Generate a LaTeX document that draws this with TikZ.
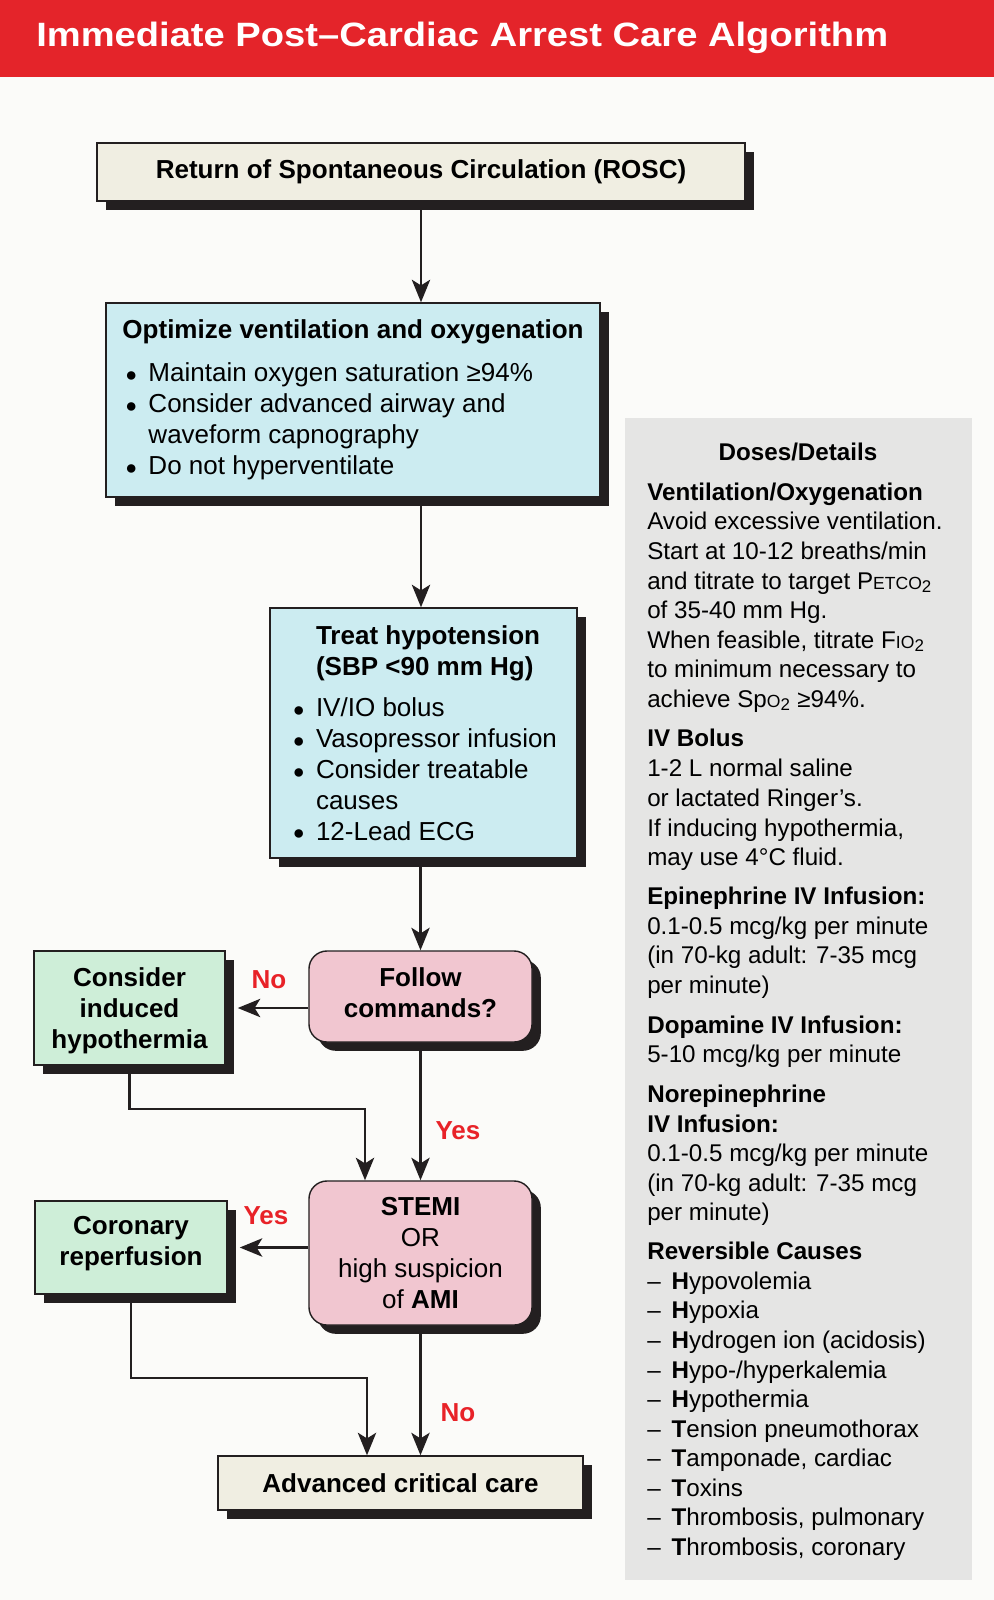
\documentclass[tikz,border=0pt]{standalone}
\usepackage{fontspec}
\setmainfont{Liberation Sans}
\usetikzlibrary{positioning}
\usetikzlibrary{arrows.meta}
\usetikzlibrary{shadows}

\definecolor{titlered}{RGB}{228,36,42}
\definecolor{labelred}{RGB}{232,34,40}
\definecolor{creamfill}{RGB}{240,238,226}
\definecolor{bluefill}{RGB}{204,236,241}
\definecolor{pinkfill}{RGB}{241,198,208}
\definecolor{greenfill}{RGB}{206,238,216}
\definecolor{panelgray}{RGB}{229,229,228}
\definecolor{shadowc}{RGB}{35,31,32}
\definecolor{pagebg}{RGB}{251,251,249}

\newcommand{\itm}{\hspace*{2pt}\makebox[16.5pt][l]{\raisebox{0.3pt}{\fontsize{14pt}{14pt}\selectfont ●}}}
\newcommand{\ind}{\hspace*{18.5pt}}
\newcommand{\smc}[1]{{\fontsize{12.5pt}{12.5pt}\selectfont #1}}
\newcommand{\dsh}{–\hspace{.45em}}

\tikzset{
  box/.style={draw=shadowc, line width=1pt, inner sep=0pt, align=left,
    drop shadow={shadow xshift=0.22cm, shadow yshift=-0.22cm, fill=shadowc, opacity=1},
    font=\fontsize{18.5pt}{22pt}\selectfont},
  plainbox/.style={box, fill=creamfill, font=\fontsize{18.5pt}{22pt}\selectfont\bfseries},
  bluebox/.style={box, fill=bluefill},
  greenbox/.style={box, fill=greenfill, align=center, font=\fontsize{18.5pt}{22pt}\selectfont\bfseries},
  pinkbox/.style={box, fill=pinkfill, align=center, rounded corners=0.45cm},
  conn/.style={draw=shadowc, line width=1.9pt, -{Stealth[length=16pt,width=13pt,inset=4pt]}},
  lbl/.style={text=labelred, inner sep=0pt, font=\fontsize{18.5pt}{22pt}\selectfont\bfseries},
  side/.style={anchor=base west, inner sep=0pt, font=\fontsize{17.2pt}{21pt}\selectfont}
}

\begin{document}
\begin{tikzpicture}[x=0.025cm, y=-0.025cm]
\useasboundingbox (0,0) rectangle (994,1600);
\fill[pagebg] (0,0) rectangle (994,1600);
\fill[titlered] (0,0) rectangle (994,77);
\node[anchor=base west, inner sep=0pt, text=white, font=\fontsize{24pt}{24pt}\selectfont\bfseries] (title) at (36,46) {\scalebox{1.13}[1]{Immediate Post–Cardiac Arrest Care Algorithm}};

% flow chart
\node[plainbox, minimum width=16.2cm, minimum height=1.45cm] (rosc) at (421,172) {Return of Spontaneous Circulation (ROSC)};
\node[bluebox, minimum width=12.35cm, minimum height=4.85cm] (vent) at (353,400) {\textbf{Optimize ventilation and oxygenation}\\[8.5pt]
  \itm Maintain oxygen saturation ≥94\%\\
  \itm Consider advanced airway and\\
  \ind waveform capnography\\
  \itm Do not hyperventilate};
\node[bluebox, minimum width=7.675cm, minimum height=6.25cm] (hypot) at (423.5,733) {\ind\textbf{Treat hypotension}\\
  \ind\textbf{(SBP <90 mm Hg)}\\[7.5pt]
  \itm IV/IO bolus\\
  \itm Vasopressor infusion\\
  \itm Consider treatable\\
  \ind causes\\
  \itm 12-Lead ECG};
\node[pinkbox, minimum width=5.575cm, minimum height=2.275cm, font=\fontsize{18.5pt}{22pt}\selectfont\bfseries] (follow) at (420.5,996.5) {Follow\\commands?\rule[-6pt]{0pt}{6pt}};
\node[greenbox, minimum width=4.775cm, minimum height=2.85cm] (hypo) at (129.5,1008) {\rule{0pt}{17pt}Consider\\induced\\hypothermia};
\node[pinkbox, minimum width=5.575cm, minimum height=3.6cm] (stemi) at (420.5,1253) {\textbf{STEMI}\\OR\\high suspicion\\of \textbf{AMI}};
\node[greenbox, minimum width=4.8cm, minimum height=2.325cm] (coro) at (131,1247.5) {Coronary\\reperfusion\rule[-10pt]{0pt}{10pt}};
\node[plainbox, minimum width=9.125cm, minimum height=1.35cm] (acc) at (400.5,1483) {Advanced critical care};

\coordinate (hj) at (365,1109);
\coordinate (cj) at (367,1378);

\draw[conn] (rosc.south) -- (rosc.south |- vent.north);
\draw[conn] (rosc.south |- vent.south) -- (rosc.south |- hypot.north);
\draw[conn] (hypot.south -| follow) -- (follow.north);
\draw[conn] (follow.west |- hypo) -- ([xshift=0.3cm]hypo.east);
\draw[conn] (follow.south) -- (stemi.north);
\draw[conn] (hypo.south) |- (hj) -- (hj |- stemi.north);
\draw[conn] (stemi.west |- coro) -- ([xshift=0.3cm]coro.east);
\draw[conn] (stemi.south) -- (stemi.south |- acc.north);
\draw[conn] (coro.south) |- (cj) -- (cj |- acc.north);

\node[lbl] (nofollow) at (269,980) {No};
\node[lbl] (yesfollow) at (458,1131) {Yes};
\node[lbl] (yesstemi) at (266,1216) {Yes};
\node[lbl] (nostemi) at (458,1413) {No};

% doses panel
\fill[panelgray] (625,418) rectangle (972,1580);
\node[side, anchor=base, font=\fontsize{17.2pt}{21pt}\selectfont\bfseries] (doses) at (798,460) {Doses/Details};
\foreach \y/\dtext [count=\i] in {
  500/{\textbf{Ventilation/Oxygenation}},
  529/{Avoid excessive ventilation.},
  559/{Start at 10-12 breaths/min},
  589/{and titrate to target P\smc{ETCO}\textsubscript{2}},
  618/{of 35-40 mm Hg.},
  648/{When feasible, titrate F\smc{IO}\textsubscript{2}},
  677/{to minimum necessary to},
  707/{achieve Sp\smc{O}\textsubscript{2} ≥94\%.},
  746/{\textbf{IV Bolus}},
  776/{1-2 L normal saline},
  806/{or lactated Ringer’s.},
  836/{If inducing hypothermia,},
  865/{may use 4°C fluid.},
  904/{\textbf{Epinephrine IV Infusion:}},
  934/{0.1-0.5 mcg/kg per minute},
  963/{(in 70-kg adult: 7-35 mcg},
  993/{per minute)},
  1033/{\textbf{Dopamine IV Infusion:}},
  1062/{5-10 mcg/kg per minute},
  1102/{\textbf{Norepinephrine}},
  1132/{\textbf{IV Infusion:}},
  1161/{0.1-0.5 mcg/kg per minute},
  1191/{(in 70-kg adult: 7-35 mcg},
  1220/{per minute)},
  1259/{\textbf{Reversible Causes}},
  1289/{\dsh\textbf{H}ypovolemia},
  1318/{\dsh\textbf{H}ypoxia},
  1348/{\dsh\textbf{H}ydrogen ion (acidosis)},
  1378/{\dsh\textbf{H}ypo-/hyperkalemia},
  1407/{\dsh\textbf{H}ypothermia},
  1437/{\dsh\textbf{T}ension pneumothorax},
  1466/{\dsh\textbf{T}amponade, cardiac},
  1496/{\dsh\textbf{T}oxins},
  1525/{\dsh\textbf{T}hrombosis, pulmonary},
  1555/{\dsh\textbf{T}hrombosis, coronary}}
  \node[side] (d\i) at (647,\y) {\dtext};
\end{tikzpicture}
\end{document}
